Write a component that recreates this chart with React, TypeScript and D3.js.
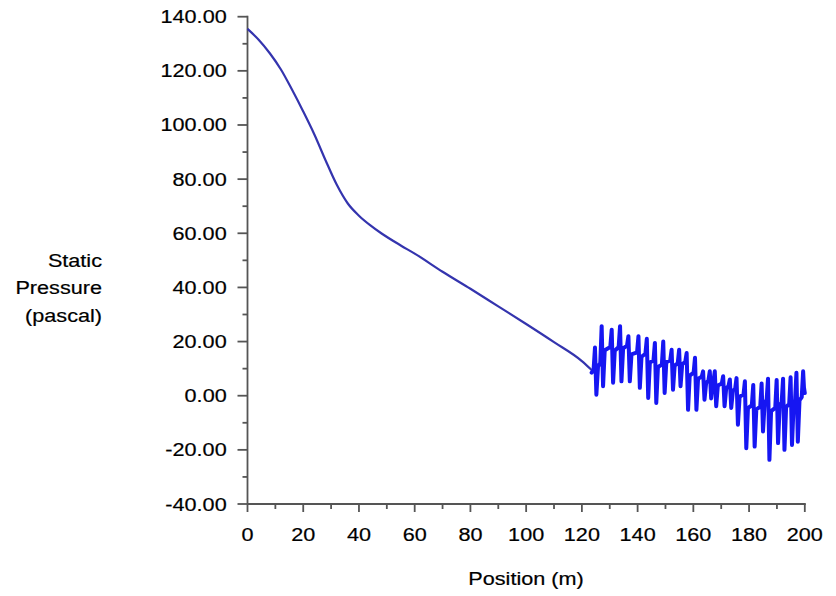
import React from "react";
import * as d3 from "d3";

// Smooth section of the static pressure profile (Position m, Pressure Pa)
const smoothPosition = [0, 4, 8, 12, 16, 20, 24, 28, 32, 36, 40, 44, 48, 55, 60, 70, 80, 90, 100, 110, 120, 123.5];
const smoothPressure = [135.5, 131.5, 126.5, 120.5, 113, 105, 96.5, 87, 78, 71, 66.5, 63, 60, 55.5, 52.5, 45.8, 39.5, 33, 26.5, 19.8, 12.8, 9.5];

// Oscillating section: for each cycle a shoulder, a peak, a trough, and the recovery level
const wavePosition = [
  123.5,
  124.2, 124.7, 125.2, 125.8,
  126.6, 127.1, 127.6, 128.2,
  130.2, 130.7, 131.2, 131.8,
  133.2, 133.7, 134.2, 134.8,
  136.2, 136.7, 137.2, 137.8,
  139.8, 140.3, 140.8, 141.4,
  142.8, 143.3, 143.8, 144.4,
  145.7, 146.2, 146.7, 147.3,
  148.7, 149.2, 149.7, 150.3,
  151.7, 152.2, 152.7, 153.3,
  154.4, 154.9, 155.4, 156.0,
  157.1, 157.6, 158.1, 158.7,
  160.1, 160.6, 161.1, 161.7,
  163.0, 163.5, 164.0, 164.6,
  165.4, 165.9, 166.4, 167.0,
  167.3, 167.7, 168.2, 168.8,
  170.2, 170.7, 171.2, 171.8,
  172.6, 173.1, 173.6, 174.2,
  175.0, 175.5, 176.0, 176.6,
  178.0, 178.5, 179.0, 179.6,
  181.0, 181.5, 182.0, 182.6,
  184.0, 184.5, 185.0, 185.6,
  186.3, 186.8, 187.3, 187.9,
  189.4, 189.9, 190.4, 191.0,
  191.7, 192.2, 192.7, 193.3,
  194.4, 194.9, 195.4, 196.0,
  196.5, 197.0, 197.5, 198.1,
  198.9, 199.4, 199.7, 200.0,
];
const wavePressure = [
  8.5,
  9.5, 17.8, 0.4, 10.8,
  12.0, 25.7, 3.5, 16.8,
  18.0, 24.4, 4.8, 16.6,
  18.0, 25.7, 5.3, 17.5,
  18.5, 22.0, 5.3, 15.3,
  16.0, 22.0, 2.9, 14.4,
  15.5, 21.0, -0.8, 12.3,
  13.0, 19.5, -2.7, 10.6,
  11.5, 20.0, 1.0, 12.4,
  13.0, 17.0, 2.2, 11.1,
  12.0, 17.0, 3.5, 11.6,
  12.5, 15.8, -5.2, 7.4,
  8.5, 14.0, -5.2, 6.3,
  7.0, 9.0, -1.5, 4.8,
  5.5, 9.0, -1.0, 5.0,
  6.0, 9.0, -3.9, 3.8,
  4.5, 7.2, -3.9, 2.8,
  3.5, 6.0, -4.5, 1.8,
  2.5, 6.5, -10.7, -0.4,
  0.5, 5.3, -19.4, -4.6,
  -3.5, 4.0, -18.8, -5.1,
  -4.0, 4.5, -13.2, -2.6,
  -1.5, 6.3, -23.7, -5.7,
  -4.5, 5.8, -17.5, -3.5,
  -2.5, 6.3, -20.0, -4.2,
  -3.0, 6.8, -18.2, -3.2,
  -2.0, 8.5, -17.0, -1.7,
  -0.5, 9.0, 3.0, 1.0,
];

const xTicks = [0, 20, 40, 60, 80, 100, 120, 140, 160, 180, 200];
const yTicks = [-40, -20, 0, 20, 40, 60, 80, 100, 120, 140];
const xMinorTicks = [10, 30, 50, 70, 90, 110, 130, 150, 170, 190];
const yMinorTicks = [-30, -10, 10, 30, 50, 70, 90, 110, 130];
const yTitleLines = ["Static", "Pressure", "(pascal)"];
const xTitle = "Position (m)";

const W = 836;
const H = 596;
const FONT = "'Liberation Sans', Arial, Helvetica, sans-serif";
const AXIS = "#555555";

const fmt = d3
  .formatLocale({ decimal: ".", thousands: ",", grouping: [3], currency: ["", ""], minus: "-" })
  .format(".2f");

export default function App() {
  const x = d3.scaleLinear().domain([0, 200]).range([247.5, 804.8]);
  const y = d3.scaleLinear().domain([-40, 140]).range([504, 16.7]);

  const line = d3
    .line<[number, number]>()
    .x((d) => x(d[0]))
    .y((d) => y(d[1]))
    .curve(d3.curveLinear);
  const smoothLine = d3
    .line<[number, number]>()
    .x((d) => x(d[0]))
    .y((d) => y(d[1]))
    .curve(d3.curveMonotoneX);

  const smoothData: [number, number][] = smoothPosition.map((p, i) => [p, smoothPressure[i]]);
  const waveData: [number, number][] = wavePosition.map((p, i) => [p, wavePressure[i]]);

  const textStyle = {
    fontFamily: FONT,
    fontSize: 18.5,
    fill: "#000",
    stroke: "#000",
    strokeWidth: 0.2,
  } as const;
  const sx = "scale(1.17,1)";

  return (
    <svg
      width={W}
      height={H}
      viewBox={`0 0 ${W} ${H}`}
      style={{ position: "absolute", left: 0, top: 0, background: "#fff" }}
    >
      <rect width={W} height={H} fill="#fff" />

      {/* Y axis */}
      <line x1={x(0)} x2={x(0)} y1={y(140) - 1} y2={y(-40)} stroke={AXIS} strokeWidth={1.8} />
      {yTicks.map((t) => (
        <g key={"yt" + t}>
          <line x1={x(0) - 10} x2={x(0)} y1={y(t)} y2={y(t)} stroke={AXIS} strokeWidth={1.8} />
          <text transform={`translate(226.7, ${y(t) + 6.5}) ${sx}`} textAnchor="end" style={textStyle}>
            {fmt(t)}
          </text>
        </g>
      ))}
      {yMinorTicks.map((t) => (
        <line key={"ym" + t} x1={x(0) - 5} x2={x(0)} y1={y(t)} y2={y(t)} stroke={AXIS} strokeWidth={1.8} />
      ))}

      {/* X axis */}
      <line x1={x(0)} x2={x(200) + 1} y1={y(-40)} y2={y(-40)} stroke={AXIS} strokeWidth={1.8} />
      {xTicks.map((t) => (
        <g key={"xt" + t}>
          <line x1={x(t)} x2={x(t)} y1={y(-40)} y2={y(-40) + 8} stroke={AXIS} strokeWidth={1.8} />
          <text transform={`translate(${x(t)}, 541) ${sx}`} textAnchor="middle" style={textStyle}>
            {t}
          </text>
        </g>
      ))}
      {xMinorTicks.map((t) => (
        <line key={"xm" + t} x1={x(t)} x2={x(t)} y1={y(-40)} y2={y(-40) + 5} stroke={AXIS} strokeWidth={1.8} />
      ))}

      {/* Axis titles */}
      {yTitleLines.map((s, i) => (
        <text key={s} transform={`translate(102, ${266.7 + i * 27.5}) ${sx}`} textAnchor="end" style={textStyle}>
          {s}
        </text>
      ))}
      <text transform={`translate(526, 585) ${sx}`} textAnchor="middle" style={textStyle}>
        {xTitle}
      </text>

      {/* Data */}
      <path d={smoothLine(smoothData) || ""} fill="none" stroke="#3434ae" strokeWidth={2.2} strokeLinejoin="round" />
      <path d={line(waveData) || ""} fill="none" stroke="#1616f2" strokeWidth={4} strokeLinejoin="round" strokeLinecap="round" />
    </svg>
  );
}
